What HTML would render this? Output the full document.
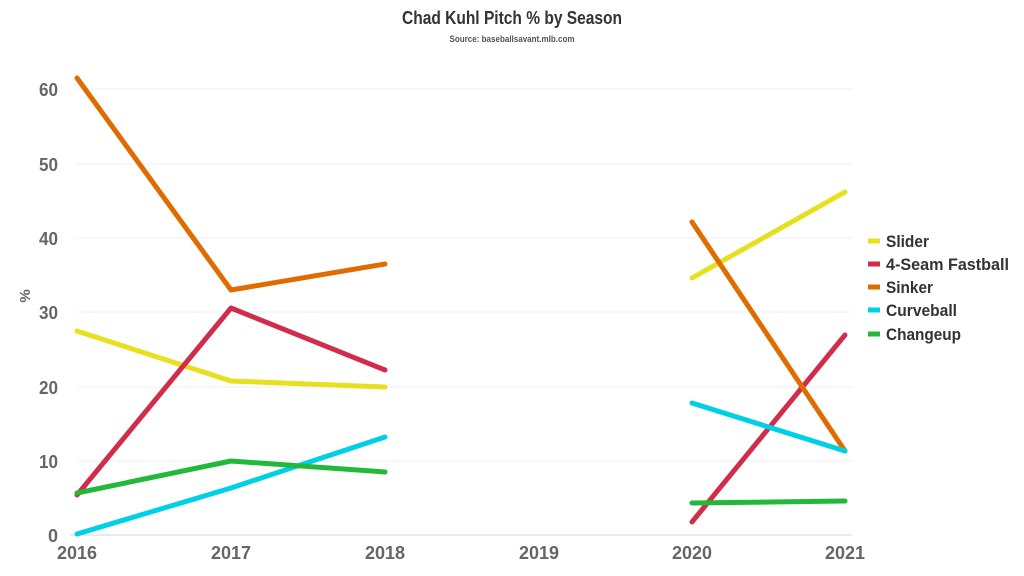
<!DOCTYPE html>
<html><head><meta charset="utf-8"><style>
html,body{margin:0;padding:0;background:#fff;}
svg{display:block;font-family:"Liberation Sans",sans-serif;}
</style></head><body>
<svg width="1024" height="576" viewBox="0 0 1024 576">
<text x="512" y="24" text-anchor="middle" font-size="18" font-weight="bold" fill="#333" textLength="220" lengthAdjust="spacingAndGlyphs">Chad Kuhl Pitch % by Season</text>
<text x="512" y="42" text-anchor="middle" font-size="9" font-weight="bold" fill="#555" textLength="125" lengthAdjust="spacingAndGlyphs">Source: baseballsavant.mlb.com</text>
<g stroke="#eceff1" stroke-width="1">
<line x1="77" x2="852" y1="89" y2="89"/><line x1="77" x2="852" y1="164" y2="164"/><line x1="77" x2="852" y1="238" y2="238"/><line x1="77" x2="852" y1="312" y2="312"/><line x1="77" x2="852" y1="387" y2="387"/><line x1="77" x2="852" y1="461" y2="461"/>
</g>
<line x1="70" x2="852" y1="535" y2="535" stroke="#ccd6eb" stroke-width="1"/>
<g font-size="18" font-weight="bold" fill="#666" text-anchor="end">
<text x="58" y="96" textLength="19" lengthAdjust="spacingAndGlyphs">60</text><text x="58" y="171" textLength="19" lengthAdjust="spacingAndGlyphs">50</text><text x="58" y="245" textLength="19" lengthAdjust="spacingAndGlyphs">40</text><text x="58" y="319" textLength="19" lengthAdjust="spacingAndGlyphs">30</text><text x="58" y="394" textLength="19" lengthAdjust="spacingAndGlyphs">20</text><text x="58" y="468" textLength="19" lengthAdjust="spacingAndGlyphs">10</text><text x="58" y="542">0</text>
</g>
<text x="30" y="296" font-size="15" font-weight="bold" fill="#666" text-anchor="middle" transform="rotate(-90 30 296)">%</text>
<g font-size="18" font-weight="bold" fill="#666" text-anchor="middle">
<text x="77" y="559" textLength="40" lengthAdjust="spacingAndGlyphs">2016</text><text x="231" y="559" textLength="40" lengthAdjust="spacingAndGlyphs">2017</text><text x="385" y="559" textLength="40" lengthAdjust="spacingAndGlyphs">2018</text><text x="539" y="559" textLength="40" lengthAdjust="spacingAndGlyphs">2019</text><text x="692" y="559" textLength="40" lengthAdjust="spacingAndGlyphs">2020</text><text x="845" y="559" textLength="40" lengthAdjust="spacingAndGlyphs">2021</text>
</g>
<g fill="none" stroke-width="5" stroke-linecap="round" stroke-linejoin="round">
<polyline stroke="#e8e01e" points="77,331 231,381 385,387"/><polyline stroke="#e8e01e" points="692,278 845,192"/>
<polyline stroke="#d12d4a" points="77,495 231,308 385,370"/><polyline stroke="#d12d4a" points="692,522 845,335"/>
<polyline stroke="#e06c00" points="77,78 231,290 385,264"/><polyline stroke="#e06c00" points="692,222 845,451"/>
<polyline stroke="#00cfe8" points="77,534 231,488 385,437"/><polyline stroke="#00cfe8" points="692,403 845,451"/>
<polyline stroke="#22b83a" points="77,493 231,461 385,472"/><polyline stroke="#22b83a" points="692,503 845,501"/>
</g>
<g stroke-width="5">
<line x1="868" x2="880" y1="241" y2="241" stroke="#e8e01e"/>
<line x1="868" x2="880" y1="264" y2="264" stroke="#d12d4a"/>
<line x1="868" x2="880" y1="287" y2="287" stroke="#e06c00"/>
<line x1="868" x2="880" y1="310" y2="310" stroke="#00cfe8"/>
<line x1="868" x2="880" y1="334" y2="334" stroke="#22b83a"/>
</g>
<g font-size="17" font-weight="bold" fill="#333">
<text x="886" y="247" textLength="43" lengthAdjust="spacingAndGlyphs">Slider</text>
<text x="886" y="270" textLength="123" lengthAdjust="spacingAndGlyphs">4-Seam Fastball</text>
<text x="886" y="293" textLength="47" lengthAdjust="spacingAndGlyphs">Sinker</text>
<text x="886" y="316" textLength="71" lengthAdjust="spacingAndGlyphs">Curveball</text>
<text x="886" y="340" textLength="75" lengthAdjust="spacingAndGlyphs">Changeup</text>
</g>
</svg>
</body></html>
